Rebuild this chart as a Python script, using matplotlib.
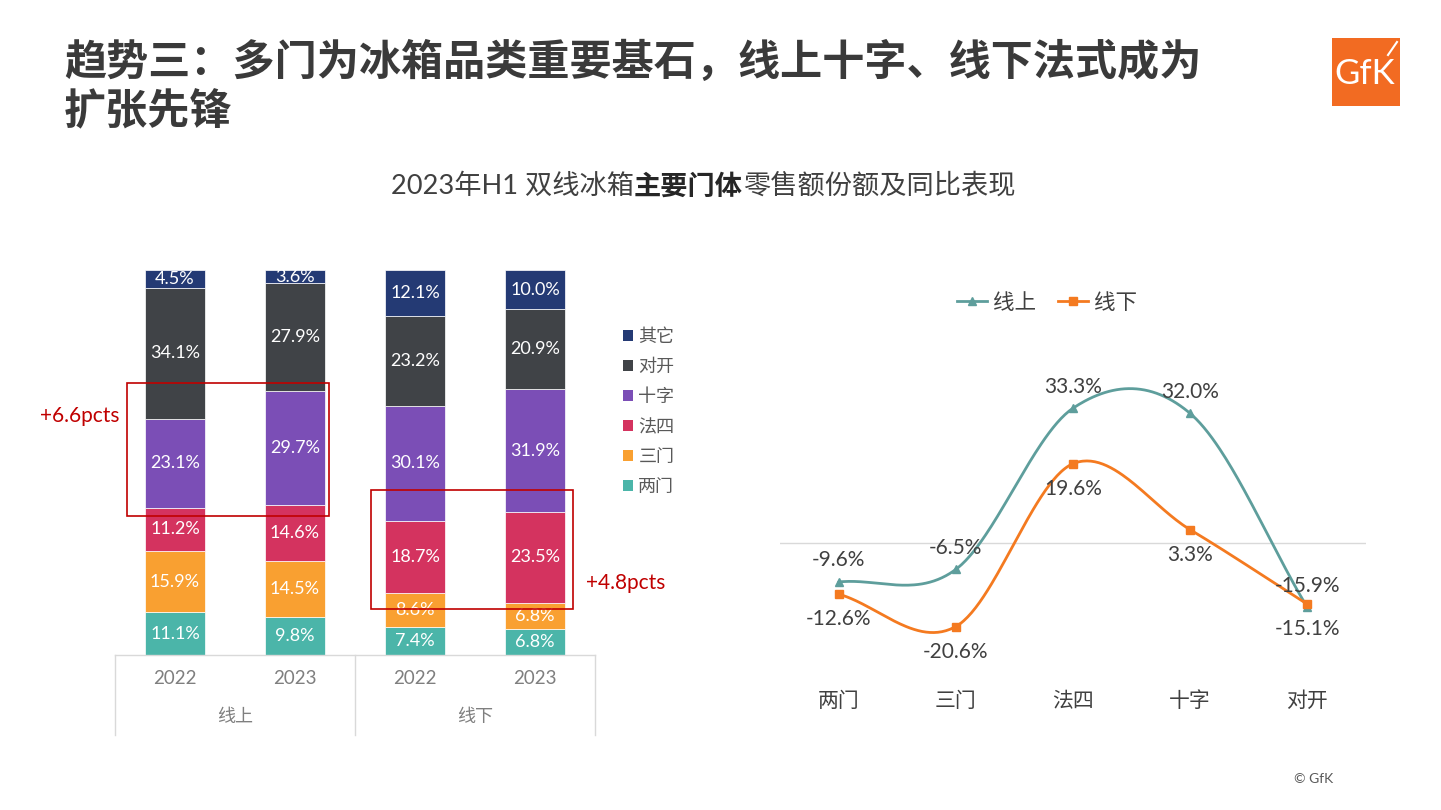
import matplotlib
matplotlib.use('Agg')
import matplotlib.pyplot as plt
import matplotlib.transforms as mtransforms
import numpy as np
from matplotlib.patches import Rectangle, Patch
from matplotlib.lines import Line2D

plt.rcParams['font.family'] = ['Lato', 'Noto Sans CJK SC', 'DejaVu Sans']

# ---------------- data ----------------
bar_years = ['2022', '2023', '2022', '2023']
bar_groups = ['线上', '线下']
door_types = ['两门', '三门', '法四', '十字', '对开', '其它']
share_liangmen = [11.1, 9.8, 7.4, 6.8]
share_sanmen = [15.9, 14.5, 8.6, 6.8]
share_fasi = [11.2, 14.6, 18.7, 23.5]
share_shizi = [23.1, 29.7, 30.1, 31.9]
share_duikai = [34.1, 27.9, 23.2, 20.9]
share_other = [4.5, 3.6, 12.1, 10.0]

line_categories = ['两门', '三门', '法四', '十字', '对开']
yoy_online = [-9.6, -6.5, 33.3, 32.0, -15.9]
yoy_offline = [-12.6, -20.6, 19.6, 3.3, -15.1]
line_series = ['线上', '线下']

title_text = '趋势三：多门为冰箱品类重要基石，线上十字、线下法式成为\n扩张先锋'
highlight_texts = ['+6.6pcts', '+4.8pcts']

# ---------------- styles ----------------
seg_colors = ['#4bb5a9', '#f9a031', '#d4335f', '#7b4eb6', '#404347', '#243a74']
online_color = '#5e9e9c'
offline_color = '#f47a20'
red = '#c00000'
grey_text = '#7f7f7f'
dark_text = '#404040'

W, H = 1441, 810
fig = plt.figure(figsize=(W / 100, H / 100), dpi=100)


def fx(px):
    return px / W


def fy(py):
    return 1 - py / H


# ---------------- title ----------------
fig.text(fx(64), fy(40), title_text, ha='left', va='top', fontsize=30.3,
         fontweight='bold', color='#3a3a3a', linespacing=1.25)

# subtitle with bold middle part
renderer = fig.canvas.get_renderer()
parts = [('2023年H1 双线冰箱', 'normal', '#404040'),
         ('主要门体', 'bold', '#262626'),
         ('零售额份额及同比表现', 'normal', '#404040')]
objs = []
for s, wgt, c in parts:
    t = fig.text(0, fy(186), s, ha='left', va='center', fontsize=19.6,
                 fontweight=wgt, color=c)
    objs.append(t)
widths = [t.get_window_extent(renderer).width for t in objs]
total = sum(widths)
xs = 703 - total / 2
for t, w in zip(objs, widths):
    t.set_x(xs / W)
    xs += w

# logo
fig.patches.append(Rectangle((fx(1332), fy(106)), fx(68), (106 - 38) / H,
                             transform=fig.transFigure, facecolor='#f26b22',
                             edgecolor='none'))
fig.text(fx(1365), fy(74), 'GfK', ha='center', va='center', fontsize=25,
         color='white', family=['Lato'])
fig.lines.append(Line2D([fx(1388), fx(1397)], [fy(55), fy(42)],
                        transform=fig.transFigure, color='white', lw=1.5))

# footer
fig.text(fx(1314), fy(779), '© GfK', ha='center', va='center', fontsize=10,
         color='#595959')

# ---------------- stacked bar chart ----------------
ax1 = fig.add_axes([fx(115), fy(655), (595 - 115) / W, (655 - 270) / H])
series = [share_liangmen, share_sanmen, share_fasi, share_shizi, share_duikai,
          share_other]
xpos = np.arange(len(bar_years))
bottom = np.zeros(len(bar_years))
for vals, col in zip(series, seg_colors):
    vals = np.array(vals)
    ax1.bar(xpos, vals, bottom=bottom, width=0.5, color=col,
            edgecolor='white', linewidth=0.5)
    for xi, v, b in zip(xpos, vals, bottom):
        ax1.text(xi, b + v / 2, f'{v:.1f}%', ha='center', va='center',
                 color='white', fontsize=13)
    bottom += vals
ax1.set_xlim(-0.5, 3.5)
ax1.set_ylim(0, 100)
ax1.set_xticks([])
ax1.set_yticks([])
for sp in ax1.spines.values():
    sp.set_visible(False)

trans = mtransforms.blended_transform_factory(ax1.transData, fig.transFigure)
for xi, yr in zip(xpos, bar_years):
    ax1.text(xi, fy(678), yr, transform=trans, ha='center', va='center',
             fontsize=13.5, color=grey_text)
for gi, g in enumerate(bar_groups):
    ax1.text(2 * gi + 0.5, fy(717), g, transform=trans, ha='center',
             va='center', fontsize=13, color=grey_text)
line_col = '#d9d9d9'
ax1.add_line(Line2D([-0.5, 3.5], [fy(655), fy(655)], transform=trans,
                    color=line_col, lw=1, clip_on=False))
for xv in [-0.5, 1.5, 3.5]:
    ax1.add_line(Line2D([xv, xv], [fy(655), fy(735)], transform=trans,
                        color=line_col, lw=1, clip_on=False))

# highlight boxes
ax1.add_patch(Rectangle((-0.4, 36.1), 1.683, 34.5, fill=False,
                        edgecolor=red, lw=1.2, clip_on=False, zorder=5))
ax1.add_patch(Rectangle((1.633, 11.9), 1.684, 31.0, fill=False,
                        edgecolor=red, lw=1.2, clip_on=False, zorder=5))
fig.text(fx(119), fy(416), highlight_texts[0], ha='right', va='center',
         fontsize=15, color=red)
fig.text(fx(586), fy(583), highlight_texts[1], ha='left', va='center',
         fontsize=15, color=red)

# legend for bar chart (top to bottom: 其它 ... 两门)
handles = [Patch(facecolor=c, edgecolor='none', label=l)
           for c, l in zip(seg_colors[::-1], door_types[::-1])]
fig.legend(handles=handles, loc='upper left',
           bbox_to_anchor=(fx(614), fy(319)), frameon=False, fontsize=13,
           handlelength=0.55, handleheight=0.55, handletextpad=0.3,
           labelspacing=0.76, labelcolor='#595959', borderpad=0)

# ---------------- line chart ----------------
ax2 = fig.add_axes([fx(780), fy(680), (1366 - 780) / W, (680 - 360) / H])
ax2.set_xlim(-0.5, len(line_categories) - 0.5)
ax2.set_ylim(-33.8, 45.2)
ax2.axhline(0, color='#d9d9d9', lw=1)


def smooth_curve(yv, n=60):
    yv = np.asarray(yv, dtype=float)
    k = len(yv)
    m = np.zeros(k)
    m[0] = yv[1] - yv[0]
    m[-1] = yv[-1] - yv[-2]
    for i in range(1, k - 1):
        m[i] = (yv[i + 1] - yv[i - 1]) / 2
    xo, yo = [], []
    for i in range(k - 1):
        t = np.linspace(0, 1, n)
        h00 = 2 * t**3 - 3 * t**2 + 1
        h10 = t**3 - 2 * t**2 + t
        h01 = -2 * t**3 + 3 * t**2
        h11 = t**3 - t**2
        xo.extend(i + t)
        yo.extend(h00 * yv[i] + h10 * m[i] + h01 * yv[i + 1] + h11 * m[i + 1])
    return np.array(xo), np.array(yo)


xl = np.arange(len(line_categories))
for vals, col, mk, ms, off, name in [
        (yoy_online, online_color, '^', 6, 15.5, line_series[0]),
        (yoy_offline, offline_color, 's', 6, -18, line_series[1])]:
    sx, sy = smooth_curve(vals)
    ax2.plot(sx, sy, color=col, lw=2, solid_capstyle='round')
    ax2.plot(xl, vals, linestyle='none', marker=mk, markersize=ms, color=col)
    for xi, v in zip(xl, vals):
        ax2.annotate(f'{v:.1f}%', (xi, v), xytext=(0, off),
                     textcoords='offset points', ha='center', va='center',
                     fontsize=15, color=dark_text)

ax2.set_xticks(xl)
ax2.set_xticklabels(line_categories, fontsize=15, color=dark_text)
ax2.tick_params(axis='x', length=0, pad=8)
ax2.set_yticks([])
for sp in ax2.spines.values():
    sp.set_visible(False)

lh = [Line2D([0], [0], color=online_color, lw=2, marker='^', markersize=6,
             label=line_series[0]),
      Line2D([0], [0], color=offline_color, lw=2, marker='s', markersize=6,
             label=line_series[1])]
fig.legend(handles=lh, loc='center', bbox_to_anchor=(fx(1047), fy(303)),
           ncol=2, frameon=False, fontsize=15.5, handlelength=1.4,
           handletextpad=0.3, columnspacing=1.0, labelcolor='#404040')

fig.savefig('out.png', dpi=100)
